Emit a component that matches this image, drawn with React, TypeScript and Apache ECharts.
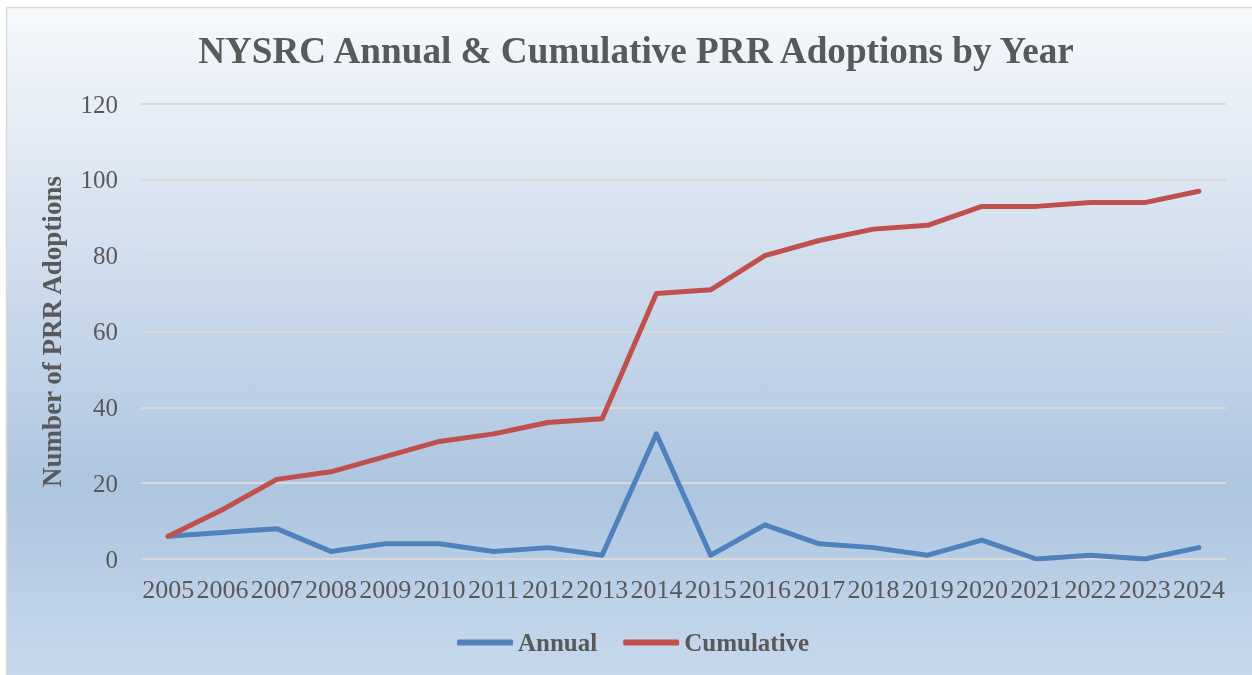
import React, { useEffect, useRef } from "react";
import * as echarts from "echarts";

const years = ["2005","2006","2007","2008","2009","2010","2011","2012","2013","2014","2015","2016","2017","2018","2019","2020","2021","2022","2023","2024"];
const annual = [6, 7, 8, 2, 4, 4, 2, 3, 1, 33, 1, 9, 4, 3, 1, 5, 0, 1, 0, 3];
const cumulative = [6, 13, 21, 23, 27, 31, 33, 36, 37, 70, 71, 80, 84, 87, 88, 93, 93, 94, 94, 97];
const yTicks = { min: 0, max: 120, interval: 20 };

const FONT = "'Liberation Serif', 'Times New Roman', serif";
const TEXT = "#595959";

export default function App() {
  const ref = useRef<HTMLDivElement>(null);
  useEffect(() => {
    const chart = echarts.init(ref.current!, null, { renderer: "svg" });
    chart.setOption({
      animation: false,
      graphic: [
        {
          type: "rect",
          z: -10,
          silent: true,
          shape: { x: 6.5, y: 7.5, width: 1250, height: 670 },
          style: {
            fill: {
              type: "linear", x: 0, y: 0, x2: 0, y2: 1,
              colorStops: [
                { offset: 0, color: "#f6f9fc" },
                { offset: 0.72, color: "#aec5e0" },
                { offset: 1, color: "#c7d9ec" },
              ],
            },
            stroke: "#d9d9d9",
            lineWidth: 1.5,
          },
        },
      ],
      title: {
        text: "NYSRC Annual & Cumulative PRR Adoptions by Year",
        left: 631,
        textAlign: "center",
        top: 27,
        textStyle: { fontFamily: FONT, fontWeight: "bold", fontSize: 37.2, color: TEXT },
      },
      legend: {
        left: 452,
        top: 625,
        icon: "roundRect",
        itemWidth: 56,
        itemHeight: 6,
        itemGap: 26,
        textStyle: { fontFamily: FONT, fontWeight: "bold", fontSize: 25, color: TEXT },
        data: ["Annual", "Cumulative"],
      },
      grid: { left: 141, right: 26, top: 104, bottom: 116, containLabel: false },
      xAxis: {
        type: "category",
        data: years,
        boundaryGap: true,
        axisLine: { show: false },
        axisTick: { show: false },
        axisLabel: { fontFamily: FONT, fontSize: 26, color: TEXT, margin: 17, interval: 0 },
      },
      yAxis: {
        type: "value",
        min: yTicks.min,
        max: yTicks.max,
        interval: yTicks.interval,
        name: "Number of PRR Adoptions",
        nameLocation: "middle",
        nameGap: 76,
        nameTextStyle: { fontFamily: FONT, fontWeight: "bold", fontSize: 27, color: TEXT },
        axisLine: { show: false },
        axisTick: { show: false },
        axisLabel: { fontFamily: FONT, fontSize: 25, color: TEXT, margin: 23 },
        splitLine: { lineStyle: { color: "#d9d9d9", width: 2 } },
      },
      series: [
        {
          name: "Annual",
          type: "line",
          data: annual,
          symbol: "none",
          lineStyle: { color: "#4f81bd", width: 5, cap: "round", join: "round" },
          itemStyle: { color: "#4f81bd" },
        },
        {
          name: "Cumulative",
          type: "line",
          data: cumulative,
          symbol: "none",
          lineStyle: { color: "#c0504d", width: 5, cap: "round", join: "round" },
          itemStyle: { color: "#c0504d" },
        },
      ],
    });
    return () => chart.dispose();
  }, []);
  return (
    <div
      ref={ref}
      style={{ position: "fixed", left: 0, top: 0, width: 1252, height: 675 }}
    />
  );
}
